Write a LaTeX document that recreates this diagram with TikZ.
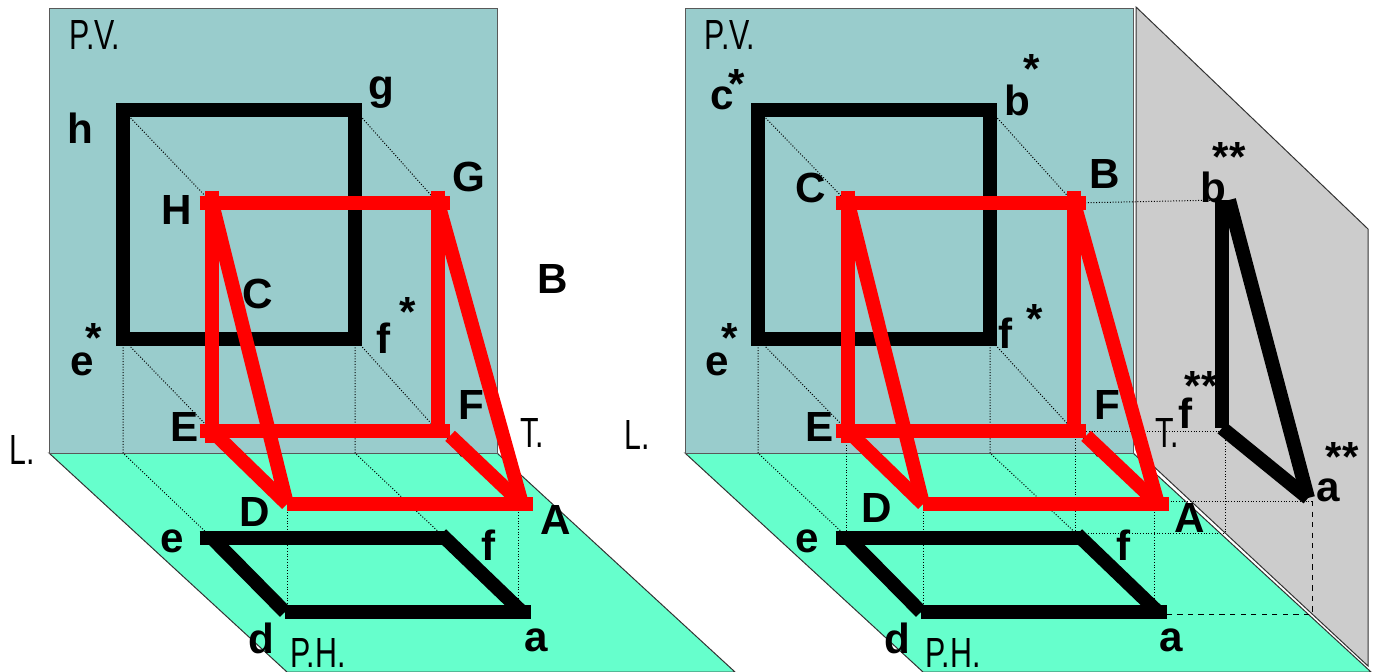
\documentclass[tikz,border=0pt]{standalone}
\usepackage{fontspec}
\setmainfont{Liberation Sans}
\tikzset{
  pv/.style = {fill = pvcol, draw = black!65, line width = 0.02cm},
  ph/.style = {fill = phcol, draw = black!80, line width = 0.02cm},
  pl/.style = {fill = plcol, draw = black!80, line width = 0.02cm},
  fine/.style = {densely dotted, line width = 0.02cm},
  proj/.style = {dashed, line width = 0.02cm},
  blk/.style = {black, line width = 0.28cm},
  rd/.style = {red, line width = 0.28cm},
  lab/.style = {inner sep = 0pt, font = \fontsize{24}{24}\selectfont\bfseries},
  plane/.style = {inner sep = 0pt, font = \fontsize{24}{24}\selectfont}
}
\definecolor{pvcol}{HTML}{99CCCC}
\definecolor{phcol}{HTML}{66FFCC}
\definecolor{plcol}{HTML}{CCCCCC}
\newcommand{\nar}[1]{\scalebox{0.72}[1]{#1}}
\begin{document}
\begin{tikzpicture}[x = 0.02cm, y = -0.02cm]
      \useasboundingbox (0,0) rectangle (1379,672);
      % left panel: planes
      \coordinate (P1) at (49,9);
      \coordinate (P2) at (497,9);
      \coordinate (P3) at (497,453);
      \coordinate (P4) at (49,453);
      \coordinate (P5) at (735,672);
      \coordinate (P6) at (287,672);
      \draw[ph] (P4) -- (P3) -- (P5) -- (P6) -- cycle;
      \draw[pv] (P1) -- (P2) -- (P3) -- (P4) -- cycle;
      % left panel: points
      \coordinate (h1) at (123,110);
      \coordinate (g1) at (355,110);
      \coordinate (f1) at (355,339);
      \coordinate (e1) at (123,339);
      \coordinate (e2) at (212,538);
      \coordinate (f2) at (445,538);
      \coordinate (d2) at (285,612);
      \coordinate (a2) at (522,612);
      \coordinate (H1) at (212,203);
      \coordinate (G1) at (438,203);
      \coordinate (F1) at (438,431);
      \coordinate (E1) at (212,431);
      \coordinate (D1) at (287,504);
      \coordinate (A1) at (522,504);
      \coordinate (s1) at (123,453);
      \coordinate (s2) at (355,453);
      \coordinate (s3) at (287,612);
      \coordinate (s4) at (518,612);
      \coordinate (s5) at (518,504);
      \coordinate (s6) at (443,431);
      \coordinate (s7) at (462,456);
      % left panel: fine lines
      \draw[fine] (h1) -- (H1);
      \draw[fine] (g1) -- (G1);
      \draw[fine] (e1) -- (E1);
      \draw[fine] (f1) -- (F1);
      \draw[fine] (e1) -- (s1) -- (e2);
      \draw[fine] (f1) -- (s2) -- (f2);
      \draw[fine] (D1) -- (s3);
      \draw[fine] (s5) -- (s4);
      \draw[line width = 0.05cm] (s6) -- (s7);
      \draw[fine] (s7) -- (A1);
      % left panel: views
      \draw[blk, line join = miter] (h1) -- (g1) -- (f1) -- (e1) -- cycle;
      \draw[blk, shorten <= -7] (e2) -- (f2);
      \draw[blk] (e2) -- (d2);
      \draw[blk, shorten >= -5] (d2) -- (a2);
      \draw[blk, shorten <= -3] (f2) -- (a2);
      \draw[rd, shorten <= -7, shorten >= -7] (H1) -- (G1);
      \draw[rd, shorten <= -7, shorten >= -7] (H1) -- (E1);
      \draw[rd, shorten <= -7] (G1) -- (F1);
      \draw[rd, shorten <= -7, shorten >= -7] (E1) -- (F1);
      \draw[rd] (H1) -- (D1);
      \draw[rd] (G1) -- (A1);
      \draw[rd] (E1) -- (D1);
      \draw[rd, shorten <= 4] (F1) ++(7,0) -- (A1);
      \draw[rd, shorten >= -6] (D1) -- (A1);
      % left panel: labels
      \node[plane] at (95,35) (t1) {\nar{P.V.}};
      \node[lab] at (80,128) (t2) {h};
      \node[lab] at (381,93) (t3) {g};
      \node[lab] at (469,177) (t4) {G};
      \node[lab] at (177,210) (t5) {H};
      \node[lab] at (258,294) (t6) {C};
      \node[lab] at (553,279) (t7) {B};
      \node[lab] at (82,364) (t8) {e};
      \node[lab] at (94,338) (t9) {*};
      \node[lab] at (384,338) (t10) {f};
      \node[lab] at (408,312) (t11) {*};
      \node[lab] at (185,427) (t12) {E};
      \node[lab] at (471,405) (t13) {F};
      \node[plane] at (532,433) (t14) {\nar{T.}};
      \node[plane] at (22,450) (t15) {\nar{L.}};
      \node[lab] at (255,512) (t16) {D};
      \node[lab] at (556,520) (t17) {A};
      \node[lab] at (172,541) (t18) {e};
      \node[lab] at (489,545) (t19) {f};
      \node[lab] at (261,638) (t20) {d};
      \node[lab] at (536,640) (t21) {a};
      \node[plane] at (318,653) (t22) {\nar{P.H.}};
      % right panel: planes
      \coordinate (Q1) at (685,9);
      \coordinate (Q2) at (1133,9);
      \coordinate (Q3) at (1133,453);
      \coordinate (Q4) at (685,453);
      \coordinate (Q5) at (1371,672);
      \coordinate (Q6) at (923,672);
      \coordinate (Q7) at (1136,7);
      \coordinate (Q8) at (1368,229);
      \coordinate (Q9) at (1368,666);
      \coordinate (Q10) at (1136,450);
      \draw[pl] (Q7) -- (Q8) -- (Q9) -- (Q10) -- cycle;
      \draw[ph] (Q4) -- (Q3) -- (Q5) -- (Q6) -- cycle;
      \draw[pv] (Q1) -- (Q2) -- (Q3) -- (Q4) -- cycle;
      % right panel: points
      \coordinate (c3) at (758,110);
      \coordinate (b3) at (990,110);
      \coordinate (f3) at (990,339);
      \coordinate (e3) at (758,339);
      \coordinate (e4) at (848,538);
      \coordinate (f4) at (1081,538);
      \coordinate (d4) at (921,612);
      \coordinate (a4) at (1158,612);
      \coordinate (C3) at (848,203);
      \coordinate (B3) at (1074,203);
      \coordinate (F3) at (1074,431);
      \coordinate (E3) at (848,431);
      \coordinate (D3) at (923,504);
      \coordinate (A3) at (1158,504);
      \coordinate (b5) at (1222,200);
      \coordinate (b6) at (1229,200);
      \coordinate (f5) at (1222,428);
      \coordinate (a5) at (1308,498);
      \coordinate (u1) at (758,453);
      \coordinate (u2) at (990,453);
      \coordinate (u3) at (846,431);
      \coordinate (u4) at (846,531);
      \coordinate (u5) at (1075,431);
      \coordinate (u6) at (1075,531);
      \coordinate (u7) at (923,612);
      \coordinate (u8) at (1154,504);
      \coordinate (u9) at (1154,612);
      \coordinate (u10) at (1085,533);
      \coordinate (u11) at (1225,533);
      \coordinate (u12) at (1225,431);
      \coordinate (u13) at (1312,501);
      \coordinate (u14) at (1312,614);
      \coordinate (u15) at (1165,614);
      \coordinate (u16) at (1154,501);
      \coordinate (u17) at (1079,431);
      \coordinate (u18) at (1098,456);
      % right panel: fine lines
      \draw[fine] (c3) -- (C3);
      \draw[fine] (b3) -- (B3);
      \draw[fine] (e3) -- (E3);
      \draw[fine] (f3) -- (F3);
      \draw[fine] (e3) -- (u1) -- (e4);
      \draw[fine] (f3) -- (u2) -- (f4);
      \draw[fine] (u3) -- (u4);
      \draw[fine] (u5) -- (u6);
      \draw[fine] (D3) -- (u7);
      \draw[fine] (u8) -- (u9);
      \draw[fine] (B3) -- (b5);
      \draw[fine] (u5) -- (u12);
      \draw[fine] (u10) -- (u11) -- (u12);
      \draw[fine] (u16) -- (u13);
      \draw[proj] (u13) -- (u14) -- (u15);
      \draw[line width = 0.05cm] (u17) -- (u18);
      \draw[fine] (u18) -- (A3);
      % right panel: views
      \draw[blk, line join = miter] (c3) -- (b3) -- (f3) -- (e3) -- cycle;
      \draw[blk, shorten <= -7] (e4) -- (f4);
      \draw[blk] (e4) -- (d4);
      \draw[blk, shorten >= -5] (d4) -- (a4);
      \draw[blk, shorten <= -3] (f4) -- (a4);
      \draw[blk] (b5) -- (f5);
      \draw[blk] (f5) -- (a5);
      \draw[blk] (a5) -- (b6);
      \draw[rd, shorten <= -7, shorten >= -7] (C3) -- (B3);
      \draw[rd, shorten <= -7, shorten >= -7] (C3) -- (E3);
      \draw[rd, shorten <= -7] (B3) -- (F3);
      \draw[rd, shorten <= -7, shorten >= -7] (E3) -- (F3);
      \draw[rd] (C3) -- (D3);
      \draw[rd] (B3) -- (A3);
      \draw[rd] (E3) -- (D3);
      \draw[rd, shorten <= 4] (F3) ++(7,0) -- (A3);
      \draw[rd, shorten >= -6] (D3) -- (A3);
      % right panel: labels
      \node[plane] at (730,35) (v1) {\nar{P.V.}};
      \node[lab] at (722,98) (v2) {c};
      \node[lab] at (737,84) (v3) {*};
      \node[lab] at (1017,100) (v4) {b};
      \node[lab] at (1032,69) (v5) {*};
      \node[lab] at (811,188) (v6) {C};
      \node[lab] at (1105,174) (v7) {B};
      \node[lab] at (1213,187) (v8) {b};
      \node[lab] at (1229,157) (v9) {**};
      \node[lab] at (717,364) (v10) {e};
      \node[lab] at (730,338) (v11) {*};
      \node[lab] at (1006,333) (v12) {f};
      \node[lab] at (1035,319) (v13) {*};
      \node[lab] at (820,427) (v14) {E};
      \node[lab] at (1107,405) (v15) {F};
      \node[plane] at (1167,433) (v16) {\nar{T.}};
      \node[lab] at (1186,413) (v17) {f};
      \node[lab] at (1201,386) (v18) {**};
      \node[plane] at (637,435) (v19) {\nar{L.}};
      \node[lab] at (877,508) (v20) {D};
      \node[lab] at (1190,518) (v21) {A};
      \node[lab] at (807,541) (v22) {e};
      \node[lab] at (1124,545) (v23) {f};
      \node[lab] at (1328,490) (v24) {a};
      \node[lab] at (1342,457) (v25) {**};
      \node[lab] at (897,638) (v26) {d};
      \node[lab] at (1171,640) (v27) {a};
      \node[plane] at (953,653) (v28) {\nar{P.H.}};
    \end{tikzpicture}
\end{document}
